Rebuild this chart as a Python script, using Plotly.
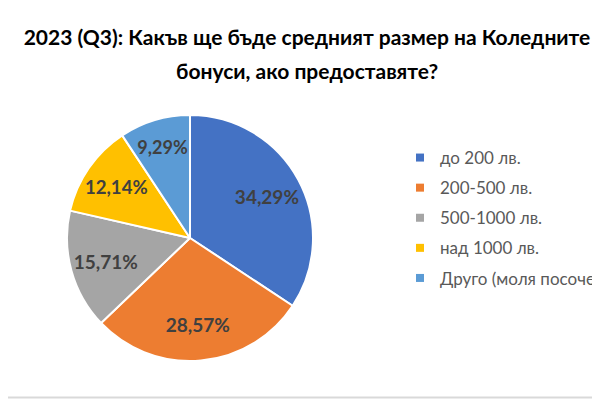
import plotly.graph_objects as go

# data
labels = ["до 200 лв.", "200-500 лв.", "500-1000 лв.", "над 1000 лв.", "Друго (моля посочете)"]
shares = [34.29, 28.57, 15.71, 12.14, 9.29]
colors = ["#4472C4", "#ED7D31", "#A5A5A5", "#FFC000", "#5B9BD5"]

title_line1 = "2023 (Q3): Какъв ще бъде средният размер на Коледните"
title_line2 = "бонуси, ако предоставяте?"

# the page body has an 8px margin, so screen pixels are shifted by 8
OFF = 8


def px(x):
    return (x - OFF) / 600


def py(y):
    return 1 - (y - OFF) / 400


def main():
    fig = go.Figure()

    # cx, cy, r of the pie on screen
    cx, cy, r = 190, 238, 123
    dom = dict(x=[px(cx - r), px(cx + r)], y=[py(cy + r), py(cy - r)])

    fig.add_trace(
        go.Pie(
            labels=labels,
            values=shares,
            sort=False,
            direction="clockwise",
            rotation=0,
            marker=dict(colors=colors, line=dict(color="white", width=2)),
            textinfo="none",
            showlegend=False,
            hoverinfo="label+percent",
            domain=dom,
        )
    )
    # text layer: transparent donut so the labels sit further out like Excel does
    fig.add_trace(
        go.Pie(
            labels=labels,
            values=shares,
            sort=False,
            direction="clockwise",
            rotation=0,
            hole=0.42,
            marker=dict(colors=["rgba(0,0,0,0)"] * len(labels), line=dict(width=0)),
            texttemplate="%{percent:.2%}",
            textposition="inside",
            insidetextorientation="horizontal",
            textfont=dict(family="Lato", size=19, color="#404040", weight="bold"),
            showlegend=False,
            hoverinfo="skip",
            domain=dom,
        )
    )

    # legend entries (one group each so the gap between rows can be set)
    for lab, col in zip(labels, colors):
        fig.add_trace(
            go.Scatter(
                x=[None],
                y=[None],
                mode="markers",
                name=lab,
                legendgroup=lab,
                marker=dict(symbol="square", size=8, color=col),
                showlegend=True,
            )
        )

    fig.update_layout(
        width=600,
        height=400,
        margin=dict(l=0, r=0, t=0, b=0, autoexpand=False),
        paper_bgcolor="white",
        plot_bgcolor="white",
        separators=", ",
        xaxis=dict(visible=False),
        yaxis=dict(visible=False),
        title=dict(
            text=title_line1,
            x=px(307),
            xanchor="center",
            y=py(38),
            yanchor="middle",
            font=dict(family="Lato", size=21, color="#000000", weight="bold"),
        ),
        legend=dict(
            x=px(400),
            xanchor="left",
            y=py(140),
            yanchor="top",
            tracegroupgap=5,
            itemsizing="trace",
            font=dict(family="Lato", size=17, color="#595959"),
            bgcolor="rgba(0,0,0,0)",
        ),
    )

    fig.add_annotation(
        text=title_line2,
        xref="paper",
        yref="paper",
        x=px(307),
        y=py(71),
        xanchor="center",
        yanchor="middle",
        showarrow=False,
        font=dict(family="Lato", size=21, color="#000000", weight="bold"),
    )

    # light grey frame line at the bottom of the chart area
    fig.add_shape(type="line", xref="paper", yref="paper", x0=0, x1=1, y0=py(397.5), y1=py(397.5),
                  line=dict(color="#D9D9D9", width=2))

    fig.write_html("out.html")


if __name__ == "__main__":
    main()
